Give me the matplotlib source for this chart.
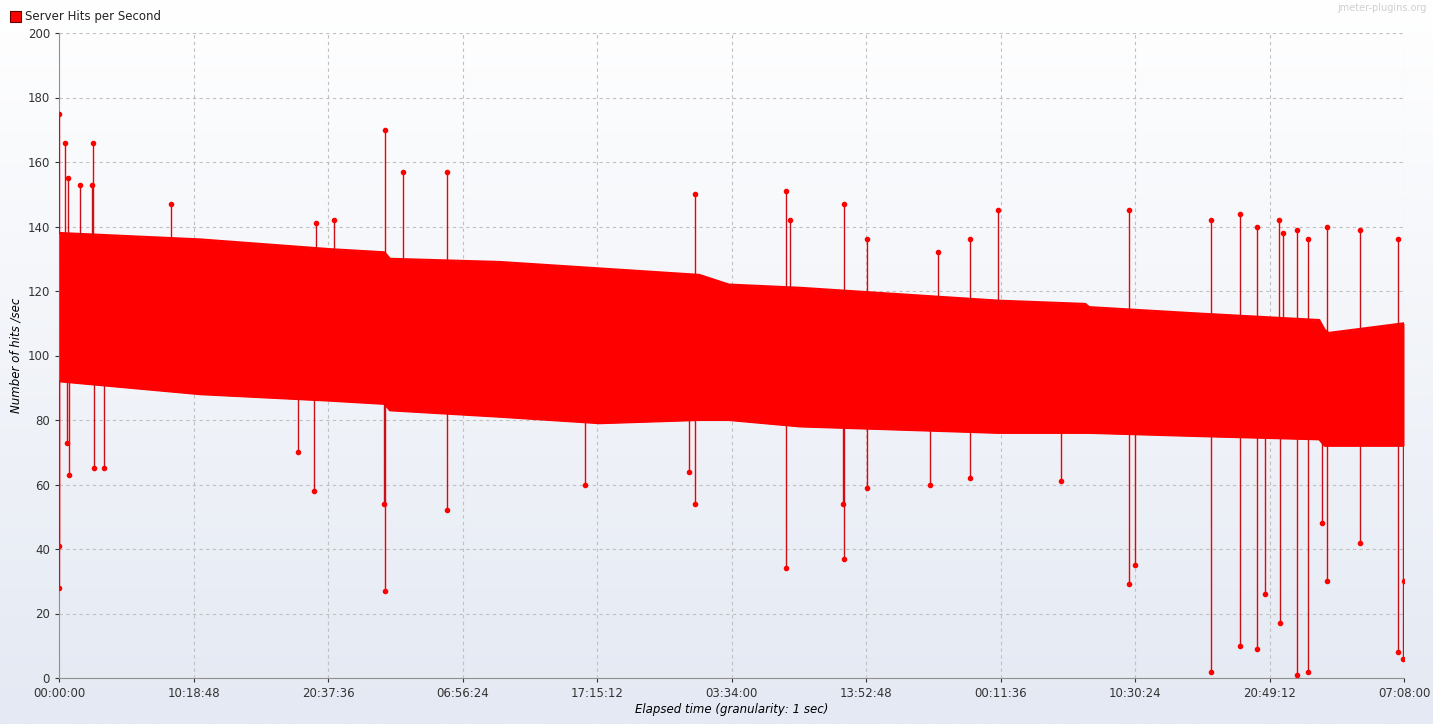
import matplotlib
matplotlib.use("Agg")
import matplotlib.pyplot as plt
import numpy as np
from matplotlib.ticker import FixedLocator, FuncFormatter

TOTAL = 371280  # seconds, 00:00:00 -> 07:08:00 (+4 days)
# band envelope (time in pixel-fractions of axis converted below), values in hits/sec
env_frac = [0.0, 0.105, 0.201, 0.242, 0.246, 0.328, 0.402, 0.476, 0.498, 0.551, 0.625, 0.699, 0.763, 0.766, 0.848, 0.937, 0.941, 0.944, 1.0]
env_upper = [138, 136, 133, 132, 130, 129, 127, 125, 122, 121, 119, 117, 116, 115, 113, 111, 108, 107, 110]
env_lower = [92, 88, 86, 85, 83, 81, 79, 80, 80, 78, 77, 76, 76, 76, 75, 74, 72, 72, 72]

spike_px = [59,59,59,65,68,69,67,80,93,92,104,94,171,298,314,316,334,385,385,384,403,447,447,585,695,695,689,786,786,790,844,844,843,867,867,930,938,970,970,998,1061,1129,1129,1135,1211,1211,1240,1240,1257,1257,1265,1279,1280,1283,1297,1297,1308,1308,1327,1327,1322,1360,1360,1398,1398,1403,1404]
spike_val = [28,41,175,166,155,63,73,153,166,153,65,65,147,70,58,141,142,170,27,54,157,157,52,60,150,54,64,151,34,142,147,37,54,136,59,60,132,136,62,145,61,145,29,35,142,2,144,10,9,140,26,142,17,138,139,1,2,136,140,30,48,139,42,136,8,6,30]

env_t = np.array(env_frac) * TOTAL
spike_t = (np.array(spike_px) - 59) / 1345 * TOTAL

fig = plt.figure(figsize=(14.33, 7.24), dpi=100)
# background gradient
bg = fig.add_axes([0, 0, 1, 1], zorder=-10)
grad = np.linspace(0, 1, 256).reshape(-1, 1)
from matplotlib.colors import LinearSegmentedColormap
cm = LinearSegmentedColormap.from_list("g", ["#ffffff", "#e4e9f3"])
bg.imshow(grad, aspect="auto", cmap=cm, extent=[0, 1, 0, 1], origin="upper")
bg.axis("off")

ax = fig.add_axes([59/1433, 1-678/724, 1345/1433, 645/724])
ax.patch.set_alpha(0)
ax.set_xlim(0, TOTAL)
ax.set_ylim(0, 200)

ax.fill_between(env_t, env_lower, env_upper, color="#ff0000", lw=0, zorder=3)
ax.plot(env_t, env_upper, color="#ff0000", lw=1.5, zorder=3)
ax.plot(env_t, env_lower, color="#ff0000", lw=1.5, zorder=3)
for t, v in zip(spike_t, spike_val):
    base = np.interp(t, env_t, env_upper) if v > 110 else np.interp(t, env_t, env_lower)
    ax.plot([t, t], [base, v], color="#ff0000", lw=1, zorder=3)
    ax.plot([t, t], [base, v], color="#3a3a5a", lw=0.4, zorder=3, alpha=0.5)
ax.plot(spike_t, spike_val, "o", color="#ff0000", ms=3, zorder=4)

xt = np.arange(11) * 37128
def fmt(x, pos):
    s = int(round(x)) % 86400
    return "%02d:%02d:%02d" % (s // 3600, (s % 3600) // 60, s % 60)
ax.xaxis.set_major_locator(FixedLocator(xt))
ax.xaxis.set_major_formatter(FuncFormatter(fmt))
ax.set_yticks(range(0, 201, 20))
ax.grid(True, color="#c0c0c0", ls=(0, (3, 3)), lw=0.8)
for s in ["top", "right"]:
    ax.spines[s].set_visible(False)
for s in ["left", "bottom"]:
    ax.spines[s].set_color("#909090")
ax.tick_params(labelsize=8.5, colors="#333333", length=3)
ax.set_xlabel("Elapsed time (granularity: 1 sec)", style="italic", fontsize=8.5, labelpad=2)
ax.set_ylabel("Number of hits /sec", style="italic", fontsize=8.5)

fig.patches.append(plt.Rectangle((10/1433, 1-22/724), 11/1433, 11/724, transform=fig.transFigure,
                                 facecolor="#ff0000", edgecolor="#660000", lw=0.8))
fig.text(25/1433, 1-16.5/724, "Server Hits per Second", fontsize=8.5, va="center", color="#222222")
fig.text(1427/1433, 1-8/724, "jmeter-plugins.org", fontsize=7, ha="right", va="center", color="#d0d0d0")

fig.savefig("out.png", dpi=100)
